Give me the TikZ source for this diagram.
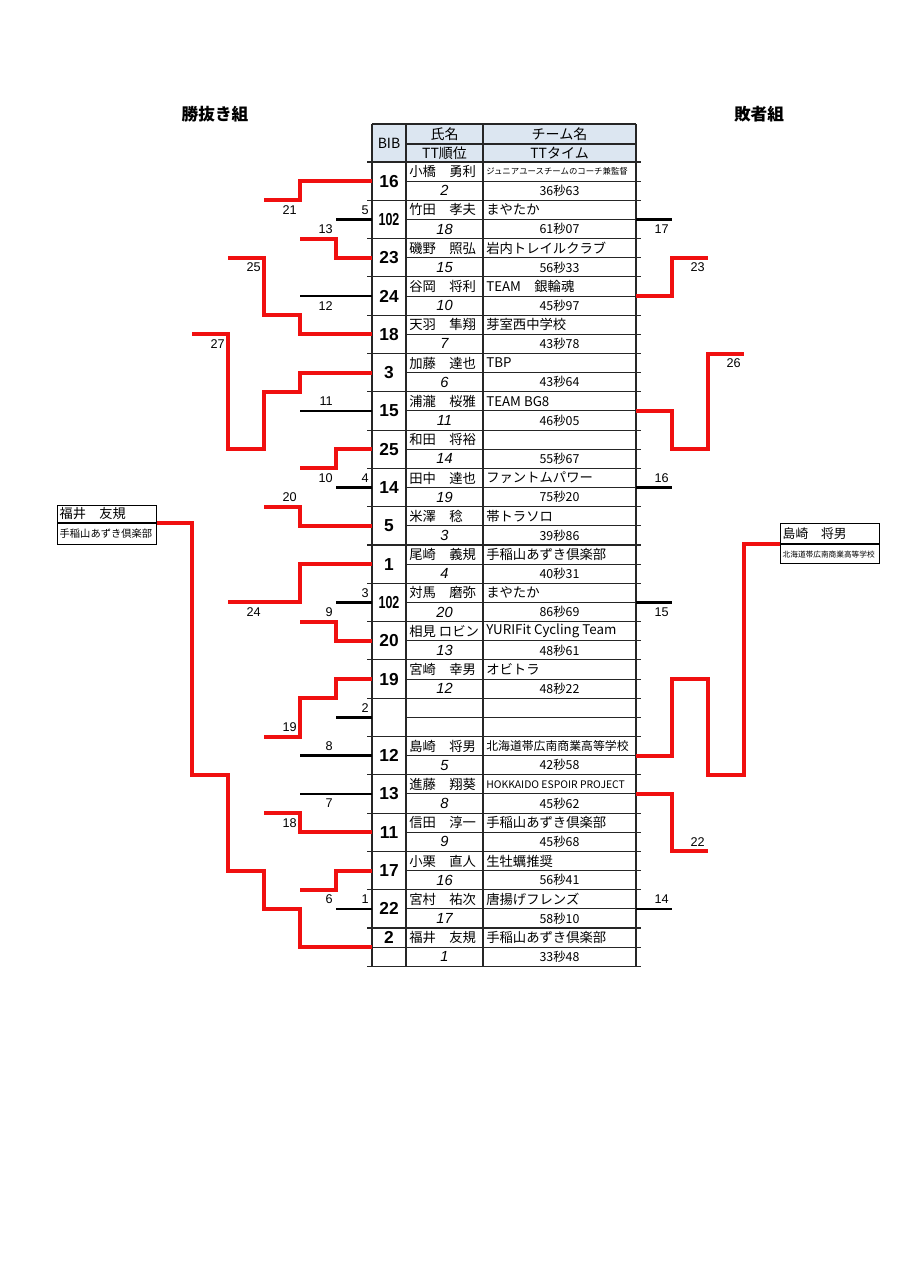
\documentclass[tikz,border=0pt]{standalone}
\usepackage{fontspec}
\usepackage{graphicx}
\setmainfont{Noto Sans CJK JP}
\newfontfamily\arialfont{Liberation Sans}
\usetikzlibrary{positioning}

\definecolor{hdrblue}{RGB}{220,230,241}
\definecolor{brkred}{RGB}{240,16,16}

% y of table row line k, and height of one row (in px units)
\newcommand{\rowy}[1]{162+19.15*(#1)}
\newcommand{\rowh}{19.15}
\newcommand{\narrowbib}[1]{\scalebox{0.72}[1]{#1}}

\tikzset{
  grid/.style={draw=black!85, line width=0.8pt},
  winline/.style={draw=brkred, line width=3pt},
  loseline/.style={draw=black, line width=2pt},
  bibtxt/.style={font=\arialfont\bfseries\fontsize{13}{13}\selectfont, inner sep=0pt},
  nametxt/.style={font=\fontsize{10}{10}\selectfont, anchor=west, inner sep=0pt},
  teamtxt/.style={font=\fontsize{10}{10}\selectfont, anchor=west, inner sep=0pt},
  ranktxt/.style={font=\arialfont\itshape\fontsize{11}{11}\selectfont, inner sep=0pt},
  timetxt/.style={font=\fontsize{9.3}{9.3}\selectfont, inner sep=0pt},
  hdrtxt/.style={font=\fontsize{10.5}{10.5}\selectfont, inner sep=0pt},
  grouptxt/.style={font=\bfseries\fontsize{12.5}{12.5}\selectfont, inner sep=0pt},
  rnd/.style={font=\arialfont\fontsize{9.5}{9.5}\selectfont, anchor=east, inner sep=0pt},
  cell/.style={draw=black, line width=0.8pt, minimum width=74.25pt, text width=71pt,
    align=left, inner xsep=1.6pt, inner ysep=0pt, anchor=north west},
}

\begin{document}
\begin{tikzpicture}[x=0.75pt,y=0.75pt,yscale=-1,xscale=1]
\useasboundingbox (0,0) rectangle (905,1280);

% group titles
\node[grouptxt] (wingroup) at (215,114) {勝抜き組};
\node[grouptxt] (losegroup) at (759,114) {敗者組};

% table header
\fill[hdrblue] (372,124) rectangle (636,162);
\draw[grid] (372,124) -- (636,124);
\draw[grid] (406,144) -- (636,144);
\node[hdrtxt] (hbib) at (389,143) {BIB};
\node[hdrtxt] (hname) at (444.5,134) {氏名};
\node[hdrtxt] (hteam) at (559.5,134) {チーム名};
\node[hdrtxt] (hrank) at (444.5,153) {TT順位};
\node[hdrtxt] (htime) at (559.5,153) {TTタイム};

% table grid
\foreach \x in {372,406,483,636}
  \draw[grid] (\x,124) -- (\x,{\rowy{42}});
\foreach \k in {0,2,...,42}
  \draw[grid] (372,{\rowy{\k}}) -- (636,{\rowy{\k}});
\foreach \k in {1,3,...,39}
  \draw[grid] (406,{\rowy{\k}}) -- (636,{\rowy{\k}});
\draw[grid] (372,{\rowy{41}}) -- (636,{\rowy{41}});
\foreach \k in {0,...,42} {
  \draw[grid] (367,{\rowy{\k}}) -- (372,{\rowy{\k}});
  \draw[grid] (636,{\rowy{\k}}) -- (641,{\rowy{\k}});
}

% entries
\foreach \i in {0,...,20} {
  \coordinate (L\i) at (372,{\rowy{2*\i+1}});
  \coordinate (R\i) at (636,{\rowy{2*\i+1}});
}
\foreach \i/\bib/\nm/\team/\rank/\ttime in {
  0/16/小橋　勇利/{\fontsize{6.3}{6.3}\selectfont ジュニアユースチームのコーチ兼監督}/2/36秒63,
  1/\narrowbib{102}/竹田　孝夫/まやたか/18/61秒07,
  2/23/磯野　照弘/岩内トレイルクラブ/15/56秒33,
  3/24/谷岡　将利/TEAM　銀輪魂/10/45秒97,
  4/18/天羽　隼翔/芽室西中学校/7/43秒78,
  5/3/加藤　達也/TBP/6/43秒64,
  6/15/浦瀧　桜雅/TEAM BG8/11/46秒05,
  7/25/和田　将裕/{}/14/55秒67,
  8/14/田中　達也/ファントムパワー/19/75秒20,
  9/5/米澤　稔/帯トラソロ/3/39秒86,
  10/1/尾崎　義規/手稲山あずき倶楽部/4/40秒31,
  11/\narrowbib{102}/対馬　磨弥/まやたか/20/86秒69,
  12/20/相見 ロビン/YURIFit Cycling Team/13/48秒61,
  13/19/宮崎　幸男/オビトラ/12/48秒22,
  15/12/島崎　将男/{\fontsize{8.9}{8.9}\selectfont 北海道帯広南商業高等学校}/5/42秒58,
  16/13/進藤　翔葵/{\fontsize{7.8}{7.8}\selectfont HOKKAIDO ESPOIR PROJECT}/8/45秒62,
  17/11/信田　淳一/手稲山あずき倶楽部/9/45秒68,
  18/17/小栗　直人/生牡蠣推奨/16/56秒41,
  19/22/宮村　祐次/唐揚げフレンズ/17/58秒10,
  20/{}/福井　友規/手稲山あずき倶楽部/1/33秒48} {
  \node[bibtxt] (b\i) at (389,{\rowy{2*\i+1}}) {\bib};
  \node[nametxt] (n\i) at (409,{\rowy{2*\i+0.5}}) {\nm};
  \node[teamtxt] (t\i) at (486,{\rowy{2*\i+0.5}}) {\team};
  \node[ranktxt] (r\i) at (444.5,{\rowy{2*\i+1.5}}) {\rank};
  \node[timetxt] (s\i) at (559.5,{\rowy{2*\i+1.5}}) {\ttime};
}
\node[bibtxt] (b20top) at (389,{\rowy{40.5}}) {2};

% finalist boxes
\node[cell, minimum height=12.75pt, font=\fontsize{9.9}{9.9}\selectfont] (wname) at (57,505) {福井　友規};
\node[cell, below=0pt of wname, minimum height=15.75pt, font=\fontsize{7.7}{7.7}\selectfont] (wteam) {手稲山あずき倶楽部};
\node[cell, minimum height=15pt, font=\fontsize{9.6}{9.6}\selectfont] (lname) at (780,523) {島崎　将男};
\node[cell, below=0pt of lname, minimum height=14.25pt, font=\fontsize{5.75}{5.75}\selectfont] (lteam) {北海道帯広南商業高等学校};

% winners bracket (left)
\draw[winline] (L0) -- ++(-72,0) -- ++(0,\rowh) -- ++(-36,0);
\draw[loseline] (L1) -- ++(-36,0);
\draw[winline] (L2) -- ++(-36,0) -- ++(0,-\rowh) -- ++(-36,0);
\draw[loseline] (L3) -- ++(-72,0);
\draw[winline] (L4) -- ++(-72,0) -- ++(0,-\rowh) -- ++(-36,0) -- ++(0,-3*\rowh) -- ++(-36,0);
\draw[winline] (L5) -- ++(-72,0) -- ++(0,\rowh) -- ++(-36,0) -- ++(0,3*\rowh) -- ++(-36,0) -- ++(0,-6*\rowh) -- ++(-36,0);
\draw[loseline] (L6) -- ++(-72,0);
\draw[winline] (L7) -- ++(-36,0) -- ++(0,\rowh) -- ++(-36,0);
\draw[loseline] (L8) -- ++(-36,0);
\draw[winline] (L9) -- ++(-72,0) -- ++(0,-\rowh) -- ++(-36,0);
\draw[winline] (L10) -- ++(-72,0) -- ++(0,2*\rowh) -- ++(-72,0);
\draw[loseline] (L11) -- ++(-36,0);
\draw[winline] (L12) -- ++(-36,0) -- ++(0,-\rowh) -- ++(-36,0);
\draw[winline] (L13) -- ++(-36,0) -- ++(0,\rowh) -- ++(-36,0) -- ++(0,2*\rowh) -- ++(-36,0);
\draw[loseline] (L14) -- ++(-36,0);
\draw[loseline] (L15) -- ++(-72,0);
\draw[loseline] (L16) -- ++(-72,0);
\draw[winline] (L17) -- ++(-72,0) -- ++(0,-\rowh) -- ++(-36,0);
\draw[winline] (L18) -- ++(-36,0) -- ++(0,\rowh) -- ++(-36,0);
\draw[loseline] (L19) -- ++(-36,0);
\draw[winline] (L20) -- ++(-72,0) -- ++(0,-2*\rowh) -- ++(-36,0) -- ++(0,-2*\rowh) -- ++(-36,0)
  -- ++(0,-5*\rowh) -- ++(-36,0) |- (wname.south east);

% losers bracket (right)
\draw[loseline] (R1) -- ++(36,0);
\draw[winline] (R3) -- ++(36,0) -- ++(0,-2*\rowh) -- ++(36,0);
\draw[winline] (R6) -- ++(36,0) -- ++(0,2*\rowh) -- ++(36,0) -- ++(0,-5*\rowh) -- ++(36,0);
\draw[loseline] (R8) -- ++(36,0);
\draw[loseline] (R11) -- ++(36,0);
\draw[winline] (R15) -- ++(36,0) -- ++(0,-4*\rowh) -- ++(36,0) -- ++(0,5*\rowh) -- ++(36,0) |- (lname.south west);
\draw[winline] (R16) -- ++(36,0) -- ++(0,3*\rowh) -- ++(36,0);
\draw[loseline] (R19) -- ++(36,0);

% match numbers
\foreach \xr/\k/\lab in {297/2.5/21, 369/2.5/5, 333/3.5/13, 261/5.5/25, 333/7.5/12,
  225/9.5/27, 333/12.5/11, 333/16.5/10, 369/16.5/4, 297/17.5/20, 261/23.5/24,
  369/22.5/3, 333/23.5/9, 297/29.5/19, 369/28.5/2, 333/30.5/8, 333/33.5/7,
  297/34.5/18, 333/38.5/6, 369/38.5/1,
  669/3.5/17, 705/5.5/23, 741/10.5/26, 669/16.5/16, 669/23.5/15, 705/35.5/22, 669/38.5/14}
  \node[rnd] (m\lab) at (\xr,{\rowy{\k}}) {\lab};
\end{tikzpicture}
\end{document}
